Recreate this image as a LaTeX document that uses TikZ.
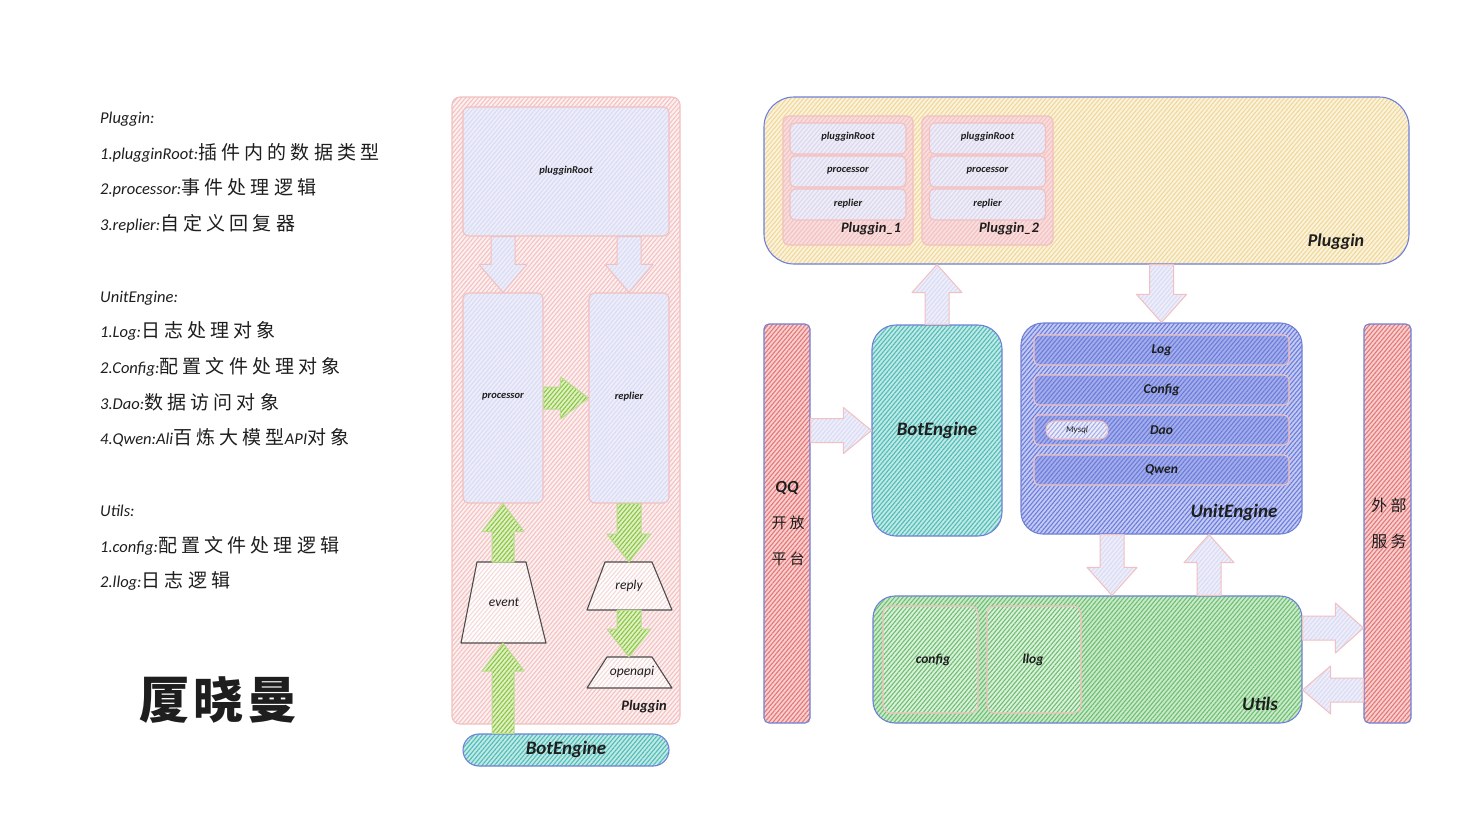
\documentclass[tikz,border=0pt]{standalone}
\usepackage{fontspec}
\setmainfont{Carlito}
\newfontfamily\cjk{Noto Sans CJK SC}[LetterSpace=20]
\newfontfamily\cjkw{Noto Sans CJK SC}[LetterSpace=22]
\newfontfamily\cjkn{Noto Sans CJK SC}[LetterSpace=8]
\usetikzlibrary{calc,patterns.meta}
\definecolor{ink}{HTML}{1E1E1E}
\definecolor{bblue}{HTML}{7080D8}
\definecolor{pinkL}{HTML}{F4C2C2}
\definecolor{pinkB}{HTML}{FCF0F0}
\definecolor{pinkE}{HTML}{F2C0C0}
\definecolor{lavL}{HTML}{D9DCF4}
\definecolor{lavB}{HTML}{EEEEFA}
\definecolor{grnL}{HTML}{8CC63F}
\definecolor{grnB}{HTML}{E0F0C8}
\definecolor{grnE}{HTML}{BCDC90}
\definecolor{tealL}{HTML}{4FBDB8}
\definecolor{tealB}{HTML}{C2E9E6}
\definecolor{yelL}{HTML}{F0D898}
\definecolor{yelB}{HTML}{FBF3DE}
\definecolor{redL}{HTML}{E77676}
\definecolor{redB}{HTML}{F7D0D0}
\definecolor{bluL}{HTML}{6B7CDC}
\definecolor{bluB}{HTML}{C4CBF2}
\definecolor{bluI}{HTML}{A4AEEA}
\definecolor{gL}{HTML}{6CC070}
\definecolor{gB}{HTML}{CBE9CB}
\definecolor{gI}{HTML}{DDF0DD}
\definecolor{trapL}{HTML}{F5DADA}
\newcommand\zh[1]{{\cjk\upshape #1}}
\newcommand\zhw[1]{{\cjkw\upshape\fontsize{19}{20}\selectfont #1}}
\newcommand\blockarrow[5]{%
  \coordinate (ba-s) at (#2);
  \coordinate (ba-e) at (#3);
  \coordinate (ba-h) at ($(ba-e)!28pt!(ba-s)$);
  \draw[#1] ($(ba-s)!#4!90:(ba-e)$) -- ($(ba-h)!#4!90:(ba-e)$) -- ($(ba-h)!#5!90:(ba-e)$)
    -- (ba-e) -- ($(ba-h)!#5!-90:(ba-e)$) -- ($(ba-h)!#4!-90:(ba-e)$) -- ($(ba-s)!#4!-90:(ba-e)$) -- cycle;}
\tikzset{
  hatch/.style 2 args={preaction={fill=#2}, pattern={Lines[angle=50,distance=3.2pt,line width=1.1pt]}, pattern color=#1},
  box/.style={draw, line width=1.1pt, inner sep=0pt, rectangle},
  lt/.style={anchor=base west, inner sep=0pt, text=ink, font=\fontsize{16.5}{20}\selectfont\itshape},
  lbl/.style={inner sep=0pt, text=ink, font=\bfseries\itshape\fontsize{#1}{#1}\selectfont},
  lbln/.style={inner sep=0pt, text=ink, font=\itshape\fontsize{#1}{#1}\selectfont},
  lavarrow/.style={hatch={lavL}{lavB}, draw=pinkE, line width=1pt, line join=round},
  grnarrow/.style={hatch={grnL}{grnB}, draw=grnE, line width=1pt, line join=round},
  trap/.style={draw=black!70, line width=1.1pt, line join=round, hatch={trapL}{white}},
}
\begin{document}
\begin{tikzpicture}[x=1pt,y=-1pt]
\useasboundingbox (0,0) rectangle (1465,827);
\fill[white] (0,0) rectangle (1465,827);

% ---------- left text ----------
\node[lt] (t0) at (100,123) {Pluggin:};
\node[lt] (t1) at (100,159) {1.plugginRoot:\zhw{插件内的数据类型}};
\node[lt] (t2) at (100,194) {2.processor:\zhw{事件处理逻辑}};
\node[lt] (t3) at (100,230) {3.replier:\zhw{自定义回复器}};
\node[lt] (t4) at (100,302) {UnitEngine:};
\node[lt] (t5) at (100,337) {1.Log:\zhw{日志处理对象}};
\node[lt] (t6) at (100,373) {2.Config:\zhw{配置文件处理对象}};
\node[lt] (t7) at (100,409) {3.Dao:\zhw{数据访问对象}};
\node[lt] (t8) at (100,444) {4.Qwen:Ali\zhw{百炼大模型}API\zhw{对象}};
\node[lt] (t9) at (100,516) {Utils:};
\node[lt] (t10) at (100,552) {1.config:\zhw{配置文件处理逻辑}};
\node[lt] (t11) at (100,587) {2.llog:\zhw{日志逻辑}};
\node[inner sep=0pt, text=ink, font=\cjkn\bfseries\fontsize{50}{50}\selectfont] (name) at (218,700) {厦晓曼};

% ---------- middle column ----------
\node[box, hatch={pinkL}{pinkB}, draw=pinkE, rounded corners=8pt, minimum width=228pt, minimum height=627pt] (pl) at (566,410.5) {};
\node[box, hatch={lavL}{lavB}, draw=pinkE, rounded corners=6pt, minimum width=206pt, minimum height=129pt] (root) at (566,171.5) {};
\node[box, hatch={lavL}{lavB}, draw=pinkE, rounded corners=6pt, minimum width=80pt, minimum height=210pt] (proc) at (503,398) {};
\node[box, hatch={lavL}{lavB}, draw=pinkE, rounded corners=6pt, minimum width=80pt, minimum height=210pt] (repl) at (629,398) {};
\draw[trap] (477,562) -- (526,562) -- (546,643) -- (461,643) -- cycle;
\draw[trap] (605,562) -- (652,562) -- (672,610) -- (587,610) -- cycle;
\draw[trap] (607,657) -- (652,657) -- (672,688) -- (587,688) -- cycle;
\coordinate (evN) at (503,562);
\coordinate (evS) at (503,643);
\coordinate (rpN) at (629,562);
\coordinate (rpS) at (629,610);
\coordinate (opN) at (629,657);
\node[box, hatch={tealL}{tealB}, draw=bblue, rounded corners=16pt, minimum width=206pt, minimum height=32pt] (pill) at (566,750) {};

\blockarrow{lavarrow}{root.south -| proc.north}{proc.north}{12pt}{24pt}
\blockarrow{lavarrow}{root.south -| repl.north}{repl.north}{12pt}{24pt}
\blockarrow{grnarrow}{proc.east}{repl.west}{11pt}{21pt}
\blockarrow{grnarrow}{evN}{proc.south}{11pt}{21pt}
\blockarrow{grnarrow}{pill.north -| evS}{evS}{11pt}{21pt}
\blockarrow{grnarrow}{repl.south}{rpN}{12pt}{22pt}
\blockarrow{grnarrow}{rpS}{opN}{12pt}{22pt}

\node[lbl=10.5] (lroot) at (566,171) {plugginRoot};
\node[lbl=10.5] (lproc) at (503,397) {processor};
\node[lbl=10.5] (lrepl) at (629,397) {replier};
\node[lbln=13.5] (event) at (504,602) {event};
\node[lbln=13.5] (reply) at (629,586) {reply};
\node[lbln=13.5] (openapi) at (632,672) {openapi};
\node[lbl=14.5] (lpl) at (644,707) {Pluggin};
\node[lbl=19] (lpill) at (566,749) {BotEngine};

% ---------- right area ----------
\node[box, hatch={yelL}{yelB}, draw=bblue, rounded corners=30pt, minimum width=645pt, minimum height=167pt] (plug) at (1086.5,180.5) {};
\node[box, hatch={pinkL}{pinkB!60!pinkL}, draw=pinkE, rounded corners=6pt, minimum width=130pt, minimum height=129pt] (p1) at (848,180.5) {};
\node[box, hatch={pinkL}{pinkB!60!pinkL}, draw=pinkE, rounded corners=6pt, minimum width=131pt, minimum height=129pt] (p2) at (987.5,180.5) {};
\foreach \n/\cx in {a/848,b/987.5}{
  \node[box, hatch={lavL!80!pinkL}{lavB}, draw=pinkE, rounded corners=5pt, minimum width=116pt, minimum height=31pt] (r\n) at (\cx,138.5) {};
  \node[box, hatch={lavL!80!pinkL}{lavB}, draw=pinkE, rounded corners=5pt, minimum width=116pt, minimum height=31pt] (c\n) at (\cx,171.5) {};
  \node[box, hatch={lavL!80!pinkL}{lavB}, draw=pinkE, rounded corners=5pt, minimum width=116pt, minimum height=31pt] (e\n) at (\cx,204.5) {};
  \node[lbl=10.5] (lr\n) at (\cx,137) {plugginRoot};
  \node[lbl=10.5] (lc\n) at (\cx,171) {processor};
  \node[lbl=10.5] (le\n) at (\cx,204) {replier};
}
\node[lbl=14.5] (lp1) at (871,229) {Pluggin\_1};
\node[lbl=14.5] (lp2) at (1009,229) {Pluggin\_2};
\node[lbl=18] (lplug) at (1336,242) {Pluggin};

\node[box, hatch={redL}{redB}, draw=bblue, rounded corners=5pt, minimum width=46pt, minimum height=399pt] (qq) at (787,523.5) {};
\node[box, hatch={redL}{redB}, draw=bblue, rounded corners=5pt, minimum width=47pt, minimum height=399pt] (ext) at (1387.5,523.5) {};
\node[box, hatch={tealL}{tealB}, draw=bblue, rounded corners=24pt, minimum width=130pt, minimum height=211pt] (bot) at (937,430.5) {};
\node[box, hatch={bluL}{bluB}, draw=bblue, rounded corners=22pt, minimum width=281pt, minimum height=211pt] (unit) at (1161.5,428.5) {};
\foreach \n/\cy in {log/350,cfg/390,dao/430,qwen/470}{
  \node[box, hatch={bluL}{bluI}, draw=pinkE, rounded corners=5pt, minimum width=255pt, minimum height=30pt] (\n) at (1161.5,\cy) {};
}
\node[box, hatch={bluI}{lavB}, draw=pinkE, rounded corners=9pt, minimum width=62pt, minimum height=18pt] (mysql) at (1077,430) {};
\node[box, hatch={gL}{gB}, draw=bblue, rounded corners=22pt, minimum width=429pt, minimum height=127pt] (utils) at (1087.5,659.5) {};
\node[box, hatch={gL}{gI}, draw=pinkE, rounded corners=8pt, minimum width=95pt, minimum height=107pt] (ucfg) at (930.5,659.5) {};
\node[box, hatch={gL}{gI}, draw=pinkE, rounded corners=8pt, minimum width=94pt, minimum height=107pt] (ullog) at (1034,659.5) {};

\coordinate (ux1) at (1112,0);
\coordinate (ux2) at (1209,0);
\coordinate (uy1) at (0,628);
\coordinate (uy2) at (0,690);
\blockarrow{lavarrow}{bot.north}{bot.north |- plug.south}{12pt}{25pt}
\blockarrow{lavarrow}{unit.north |- plug.south}{unit.north}{12pt}{25pt}
\blockarrow{lavarrow}{qq.east |- bot.west}{bot.west}{12pt}{23pt}
\blockarrow{lavarrow}{unit.south -| ux1}{utils.north -| ux1}{12pt}{25pt}
\blockarrow{lavarrow}{utils.north -| ux2}{unit.south -| ux2}{12pt}{25pt}
\blockarrow{lavarrow}{utils.east |- uy1}{ext.west |- uy1}{12pt}{25pt}
\blockarrow{lavarrow}{ext.west |- uy2}{utils.east |- uy2}{12pt}{24pt}

\node[lbl=17] (lqq) at (787,488) {QQ};
\node[inner sep=0pt, text=ink, font=\cjk\fontsize{15}{15}\selectfont] (lqq2) at (788,523) {开放};
\node[inner sep=0pt, text=ink, font=\cjk\fontsize{15}{15}\selectfont] (lqq3) at (788,559) {平台};
\node[inner sep=0pt, text=ink, font=\cjk\fontsize{16}{16}\selectfont] (lext1) at (1389,505) {外部};
\node[inner sep=0pt, text=ink, font=\cjk\fontsize{16}{16}\selectfont] (lext2) at (1389,541) {服务};
\node[lbl=19] (lbot) at (937,430) {BotEngine};
\node[lbl=13.5] (llog) at (1161.5,350) {Log};
\node[lbl=13.5] (lcfg) at (1161.5,390) {Config};
\node[lbl=13.5] (ldao) at (1161.5,430) {Dao};
\node[lbl=13.5] (lqwen) at (1161.5,470) {Qwen};
\node[lbln=9] (lmysql) at (1077,430) {Mysql};
\node[lbl=19] (lunit) at (1234,512) {UnitEngine};
\node[lbl=13.5] (lucfg) at (933,660) {config};
\node[lbl=13.5] (lullog) at (1033,660) {llog};
\node[lbl=19] (lutils) at (1260,704) {Utils};
\end{tikzpicture}
\end{document}
